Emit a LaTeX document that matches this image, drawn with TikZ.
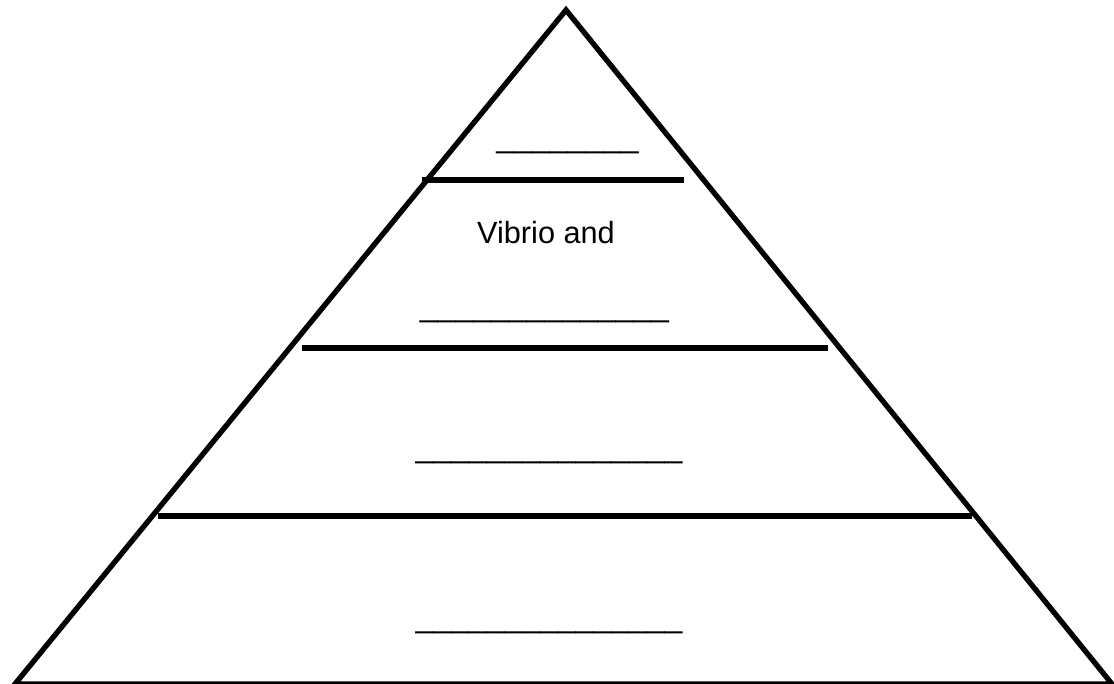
\documentclass[tikz,border=0pt]{standalone}
\usepackage{fontspec}
\setmainfont{Liberation Sans}
\begin{document}
\begin{tikzpicture}[x=0.75pt, y=-0.75pt, side/.style={line width=4pt, line join=miter}, bar/.style={line width=4.5pt}, label/.style={anchor=base, inner sep=0pt, font=\fontsize{23}{27}\selectfont}, blank/.style={label, font=\fontsize{24}{28}\selectfont}]
\useasboundingbox (0,0) rectangle (1114,683);
% pyramid outline
\coordinate (apex) at (566,10);
\coordinate (baseL) at (15,684);
\coordinate (baseR) at (1112,684);
\draw[side] (baseL) -- (apex) -- (baseR) -- cycle;
% level dividers
\draw[bar] (422,180) -- (684,180);
\draw[bar] (302,348) -- (828,348);
\draw[bar] (158,516) -- (972,516);
% level texts
\node[blank] (top) at (567.5,147) {\_\_\_\_\_\_\_\_};
\node[label] (vibrio) at (546,243) {Vibrio and};
\node[blank] (second) at (544.5,316) {\_\_\_\_\_\_\_\_\_\_\_\_\_\_};
\node[blank] (third) at (549,457) {\_\_\_\_\_\_\_\_\_\_\_\_\_\_\_};
\node[blank] (bottom) at (549,627) {\_\_\_\_\_\_\_\_\_\_\_\_\_\_\_};
\end{tikzpicture}
\end{document}
